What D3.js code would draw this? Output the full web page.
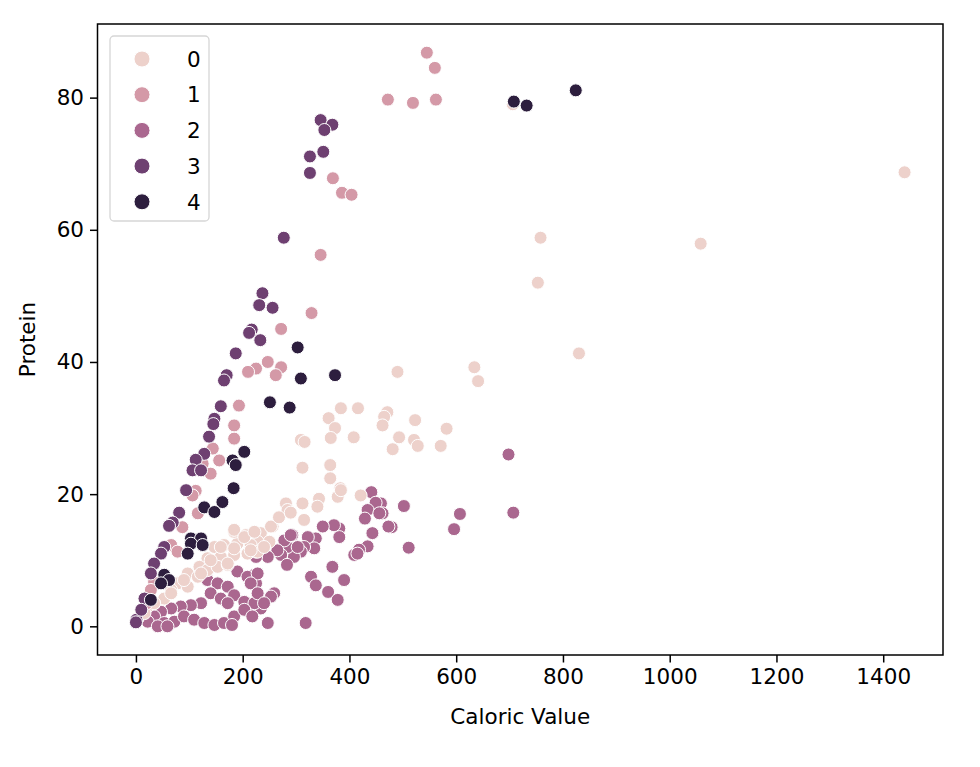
<!DOCTYPE html>
<html><head><meta charset="utf-8">
<script src="https://cdn.jsdelivr.net/npm/d3@7"></script>
<style>body{margin:0;background:#fff} text{font-family:"DejaVu Sans",sans-serif}</style>
</head><body><svg id="chart" width="980" height="767"></svg>
<script>
// [Caloric Value, Protein] per hue level
const hueLevels = [0, 1, 2, 3, 4];
const group0 = [[1440,68.7],[1058,57.9],[753,52.0],[758,58.8],[830,41.3],[634,39.2],[641,37.1],[490,38.5],[471,32.4],[465,31.7],[462,30.4],[523,31.2],[582,29.9],[493,28.6],[521,28.2],[528,27.3],[481,26.8],[571,27.3],[706,79.0],
[309,28.2],[316,27.9],[312,24.0],[361,31.5],[373,30.0],[365,28.5],[384,33.0],[408,28.6],[416,33.0],[364,24.4],[364,22.4],[383,20.9],[378,19.6],[421,19.8],[281,18.6],[284,17.6],[312,18.6],[343,19.3],[340,18.1],[315,16.1],[256,15.1],[234,14.1],[250,12.8],[228,12.8],[225,11.3],[384,20.6],
[147,12.0],[165,12.3],[190,12.5],[215,12.3],[159,10.5],[184,10.8],[209,11.0],[228,11.3],[134,10.3],[119,9.0],[134,8.5],[153,9.0],[172,9.3],[97,8.0],[116,7.5],[78,6.5],[97,6.0],[66,5.5],[53,4.2],[34,3.5],[22,3.0],[9,2.0],[3,1.2],
[184,14.3],[206,13.8],[184,14.6],[203,13.5],[222,14.3],[253,15.1],[159,12.0],[184,11.8],[215,11.5],[240,12.0],[140,10.0],[172,9.5],[122,8.0],[90,7.0],[66,5.0],[34,3.5],[16,2.0],[268,16.5],[290,17.2]];
const group1 = [[545,86.8],[560,84.5],[472,79.7],[519,79.2],[562,79.7],[369,67.8],[386,65.6],[404,65.3],[346,56.2],[329,47.4],[272,45.0],[247,40.0],[225,39.0],[210,38.5],[272,39.2],[262,38.0],[193,33.4],[184,30.4],[184,28.4],[144,26.9],[156,25.1],[140,23.1],[125,24.6],[112,20.5],[106,19.8],[116,17.1],[87,15.0],[66,12.3],[78,11.3],[34,6.7],[28,5.5],[20,3.5]];
const group2 = [[698,26.0],[707,17.2],[607,17.0],[596,14.7],[511,11.9],[502,18.2],[479,15.0],[459,18.6],[462,17.1],
[441,20.3],[449,18.7],[434,17.6],[456,17.1],[429,16.3],[473,15.1],[443,14.1],[434,12.1],[418,11.6],[409,10.8],[381,14.8],[381,13.5],[371,15.3],[350,15.1],[337,13.3],[334,11.8],[322,13.5],[315,12.0],[309,11.3],[296,10.5],[284,12.0],[293,13.8],[278,13.0],[272,10.8],[283,9.3],[265,11.5],[247,10.5],[225,10.5],[222,7.8],[225,6.5],[222,3.0],[234,2.7],[259,5.0],[253,4.5],[247,0.5],[318,0.5],[368,9.0],[328,7.5],[337,6.2],[390,7.0],[360,5.2],[378,4.0],[415,11.0],
[134,7.0],[153,6.5],[172,6.0],[190,8.3],[209,7.5],[228,8.0],[140,5.0],[159,4.2],[184,4.7],[203,3.7],[222,3.5],[122,3.5],[103,3.2],[84,3.0],[66,2.7],[47,2.2],[34,1.5],[53,0.5],[72,0.7],[90,1.5],[109,1.0],[128,0.5],[147,0.2],[165,0.5],[184,1.5],[203,2.5],[218,1.5],[22,0.7],[41,0.0],[59,0.0],
[290,13.8],[303,12.0],[215,6.5],[228,5.0],[240,3.5],[172,3.5],[180,0.2]];
const group3 = [[346,76.6],[368,75.9],[353,75.1],[351,71.8],[326,71.1],[326,68.6],[277,58.8],[237,50.4],[231,48.6],[256,48.2],[217,44.9],[212,44.4],[233,43.3],[187,41.3],[170,38.0],[165,37.2],[159,33.3],[147,31.4],[145,30.6],[137,28.7],[128,26.1],[112,25.2],[106,23.6],[122,23.6],[94,20.6],[81,17.2],[69,15.7],[62,15.2],[53,12.0],[47,11.0],[34,9.5],[28,8.0],[16,4.2],[1,1.0],[0,0.6],[10,2.5]];
const group4 = [[824,81.1],[708,79.4],[732,78.8],[303,42.2],[373,38.0],[309,37.5],[251,33.9],[288,33.1],[203,26.4],[181,25.1],[187,24.4],[183,20.9],[162,18.8],[128,18.0],[147,17.3],[103,13.3],[122,13.3],[103,12.5],[125,12.3],[97,11.0],[53,7.8],[62,7.0],[47,6.5],[28,4.0]];
const xTickValues = [0, 200, 400, 600, 800, 1000, 1200, 1400];
const yTickValues = [0, 20, 40, 60, 80];
const xTitle = "Caloric Value";
const yTitle = "Protein";

const groups = [group0, group1, group2, group3, group4];
const drawOrder = [2, 0, 1, 3, 4];
const FONT = "21.5px";

// seaborn default cubehelix colormap
function cubehelixColor(x) {
  const gamma = 1, start = 0, rot = 0.4, hue = 0.8;
  const xg = Math.pow(x, gamma);
  const a = hue * xg * (1 - xg) / 2;
  const phi = 2 * Math.PI * (start / 3 + rot * x);
  const ch = (p0, p1) => Math.max(0, Math.min(1, xg + a * (p0 * Math.cos(phi) + p1 * Math.sin(phi))));
  return d3.rgb(255 * ch(-0.14861, 1.78277), 255 * ch(-0.29227, -0.90649), 255 * ch(1.97294, 0)).formatHex();
}
const hueToX = d3.scaleLinear().domain(d3.extent(hueLevels)).range([0.85, 0.15]);
const color = h => cubehelixColor(hueToX(h));

const margin = {left: 97.5, top: 24, width: 845.5, height: 631};
const svg = d3.select("#chart");
const g = svg.append("g").attr("transform", `translate(${margin.left},${margin.top})`);

const all = groups.flat();
const xe = d3.extent(all, d => d[0]), ye = d3.extent(all, d => d[1]);
const xp = (xe[1] - xe[0]) * 0.05, yp = (ye[1] - ye[0]) * 0.05;
const x = d3.scaleLinear().domain([xe[0] - xp, xe[1] + xp]).range([0, margin.width]);
const y = d3.scaleLinear().domain([ye[0] - yp, ye[1] + yp]).range([margin.height, 0]);

// points
drawOrder.forEach(h => {
  g.append("g").selectAll("circle").data(groups[h]).join("circle")
    .attr("cx", d => x(d[0])).attr("cy", d => y(d[1])).attr("r", 6.5)
    .attr("fill", color(h)).attr("stroke", "#fff").attr("stroke-width", 1);
});

// axes
const xAxis = g.append("g").attr("transform", `translate(0,${margin.height})`)
  .call(d3.axisBottom(x).tickValues(xTickValues).tickSize(7.5).tickPadding(6).tickFormat(d3.format("d")));
const yAxis = g.append("g")
  .call(d3.axisLeft(y).tickValues(yTickValues).tickSize(7.5).tickPadding(6).tickFormat(d3.format("d")));
[xAxis, yAxis].forEach(a => {
  a.select(".domain").remove();
  a.selectAll(".tick line").attr("stroke", "#000").attr("stroke-width", 1.5);
  a.selectAll(".tick text").attr("fill", "#000").style("font-size", FONT).style("font-family", "DejaVu Sans");
});

g.append("rect").attr("width", margin.width).attr("height", margin.height)
  .attr("fill", "none").attr("stroke", "#000").attr("stroke-width", 1.5);

svg.append("text").attr("x", margin.left + margin.width / 2).attr("y", 724)
  .attr("text-anchor", "middle").style("font-size", FONT).text(xTitle);
svg.append("text").attr("transform", `translate(35,${margin.top + margin.height / 2}) rotate(-90)`)
  .attr("text-anchor", "middle").style("font-size", FONT).text(yTitle);

// legend
const lg = svg.append("g").attr("transform", "translate(110,36)");
lg.append("rect").attr("width", 99).attr("height", 185).attr("rx", 4)
  .attr("fill", "#fff").attr("fill-opacity", 0.8).attr("stroke", "#d6d6d6").attr("stroke-width", 1.3);
hueLevels.forEach((h, i) => {
  const row = lg.append("g").attr("transform", `translate(0,${23 + i * 35.7})`);
  row.append("circle").attr("cx", 32).attr("cy", 0).attr("r", 8).attr("fill", color(h)).attr("stroke", "#fff").attr("stroke-width", 1);
  row.append("text").attr("x", 77).attr("y", 0).attr("dy", "0.36em").style("font-size", FONT).text(h);
});
</script></body></html>
